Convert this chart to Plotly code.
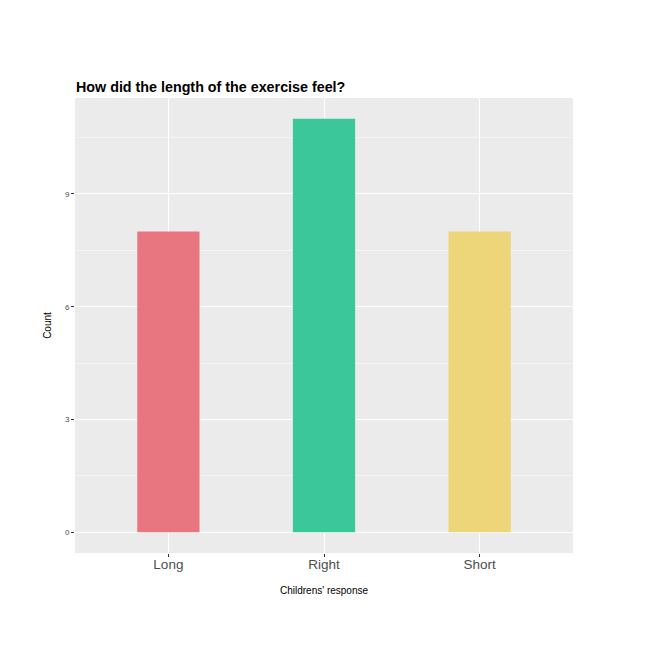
import plotly.graph_objects as go

# children's answers
responses = ["Long", "Right", "Short"]
counts = [8, 11, 8]
bar_colors = ["#E87681", "#3BC79A", "#EDD67A"]
y_ticks = [0, 3, 6, 9]

FONT = "Arial, Liberation Sans, sans-serif"

fig = go.Figure()
fig.add_trace(go.Bar(
    x=responses, y=counts, width=0.4,
    marker=dict(color=bar_colors, line=dict(width=0)),
    showlegend=False
))

# page is shown with an 8px offset, so margins are shifted by that
fig.update_layout(
    width=663, height=663,
    paper_bgcolor="white", plot_bgcolor="#EBEBEB",
    margin=dict(l=67, r=98, t=90, b=118),
    font=dict(family=FONT, color="black"),
    title=dict(
        text="<b>How did the length of the exercise feel?</b>",
        font=dict(family=FONT, size=14.3, color="black"),
        x=68 / 663, xanchor="left", xref="container",
        y=1 - 79 / 663, yanchor="middle", yref="container"
    ),
    xaxis=dict(
        range=[-0.6, 2.6], showgrid=True, gridcolor="white", gridwidth=1.2,
        zeroline=False, ticks="outside", ticklen=3, tickcolor="#333333",
        ticklabelstandoff=-4,
        tickfont=dict(size=13.5, color="#4D4D4D"),
        title=dict(text="Childrens' response", font=dict(size=10), standoff=15)
    ),
    yaxis=dict(
        range=[-0.55, 11.55], tickvals=y_ticks, showgrid=True,
        gridcolor="white", gridwidth=1.2, zeroline=False,
        ticks="outside", ticklen=3, tickcolor="#333333",
        tickfont=dict(size=8, color="#4D4D4D"),
        minor=dict(tick0=0, dtick=1.5, showgrid=True, gridcolor="#F5F5F5",
                   gridwidth=0.6, ticklen=0),
        title=dict(text="Count", font=dict(size=10), standoff=11)
    ),
)

fig.write_html("out.html")
